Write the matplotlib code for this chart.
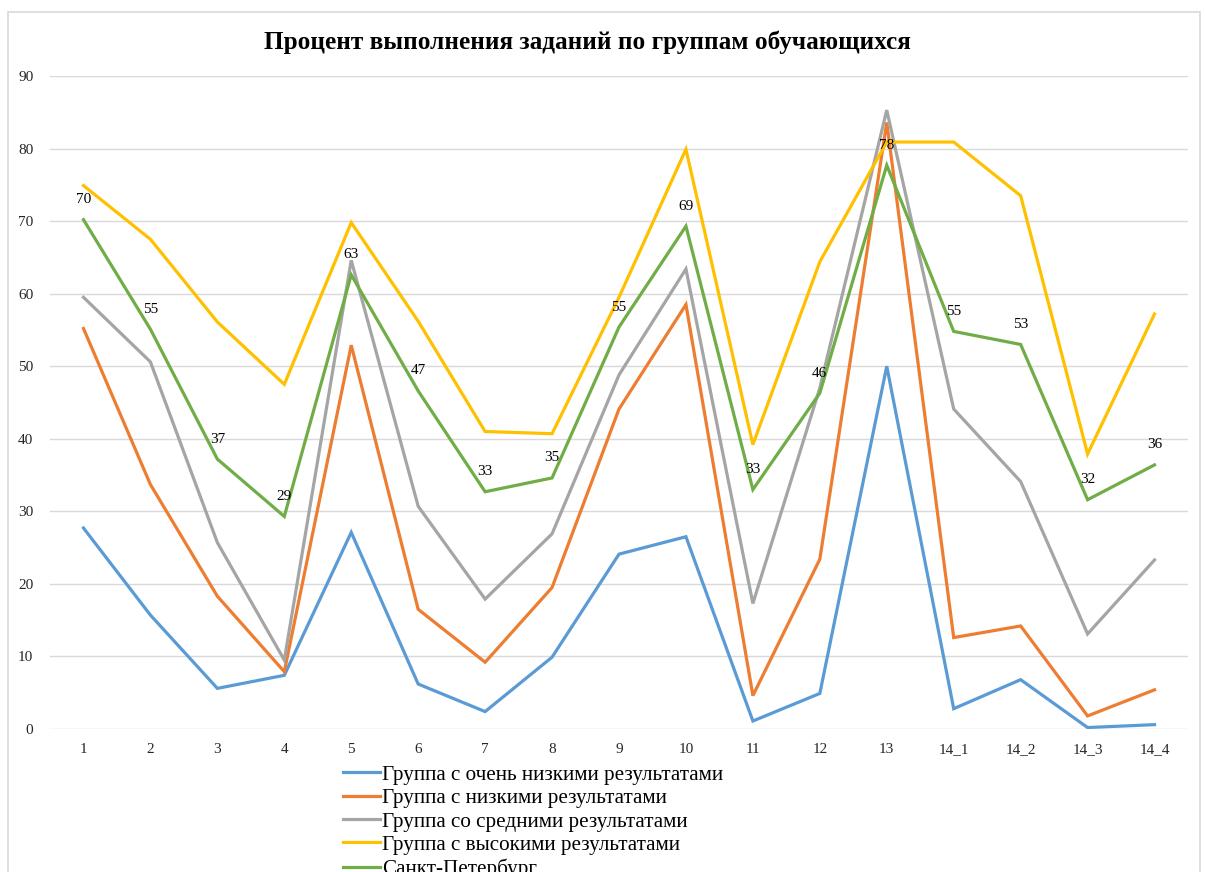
import matplotlib.pyplot as plt
from matplotlib.patches import Rectangle
import numpy as np

plt.rcParams['font.family'] = ['Liberation Serif', 'DejaVu Serif']

# data
tasks = ["1", "2", "3", "4", "5", "6", "7", "8", "9", "10", "11", "12", "13",
         "14_1", "14_2", "14_3", "14_4"]
very_low = [27.7, 15.7, 5.6, 7.4, 27.1, 6.2, 2.4, 9.9, 24.1, 26.5, 1.1, 4.9, 50.0,
            2.8, 6.8, 0.2, 0.6]
low = [55.2, 33.7, 18.3, 7.9, 52.9, 16.5, 9.2, 19.5, 44.1, 58.5, 4.6, 23.4, 83.6,
       12.6, 14.2, 1.8, 5.4]
medium = [59.5, 50.6, 25.7, 9.5, 64.6, 30.7, 17.9, 26.9, 48.8, 63.4, 17.3, 47.0, 85.3,
          44.1, 34.1, 13.1, 23.3]
high = [74.9, 67.5, 56.1, 47.5, 69.8, 56.2, 41.0, 40.7, 59.5, 79.9, 39.2, 64.4, 80.9,
        80.9, 73.5, 37.9, 57.2]
spb = [70.2, 55.1, 37.2, 29.3, 62.6, 46.6, 32.7, 34.6, 55.4, 69.3, 33.0, 46.3, 77.7,
       54.8, 53.0, 31.6, 36.4]

series = [
    ("Группа с очень низкими результатами", very_low, "#5B9BD5"),
    ("Группа с низкими результатами", low, "#ED7D31"),
    ("Группа со средними результатами", medium, "#A5A5A5"),
    ("Группа с высокими результатами", high, "#FFC000"),
    ("Санкт-Петербург", spb, "#70AD47"),
]

W, H = 1205, 872
fig = plt.figure(figsize=(W / 100, H / 100), dpi=100)

# chart frame (bottom edge is cut off in the reference)
fig.patches.append(Rectangle((8 / W, -0.05), 1192 / W, 1.05 - 12 / H,
                             transform=fig.transFigure, fill=False,
                             edgecolor="#d9d9d9", lw=1.2))

ax = fig.add_axes([50 / W, 1 - 729 / H, (1188 - 50) / W, (729 - 76) / H])
x = np.arange(len(tasks))

for name, vals, col in series:
    ax.plot(x, vals, color=col, lw=2.3, label=name, solid_joinstyle="miter")

for xi, v in zip(x, spb):
    ax.annotate(f"{v:.0f}", (xi, v), textcoords="offset pixels", xytext=(0, 20),
                ha="center", va="center", fontsize=11, color="#000000")

ax.set_xlim(-0.5, len(tasks) - 0.5)
ax.set_ylim(0, 90)
ax.set_yticks(range(0, 91, 10))
ax.set_xticks(x)
ax.set_xticklabels(tasks)
ax.grid(axis="y", color="#d9d9d9", lw=1)
ax.set_axisbelow(True)
for s in ax.spines.values():
    s.set_visible(False)
ax.tick_params(length=0, labelsize=11, labelcolor="#262626")
ax.tick_params(axis="y", pad=12)
ax.tick_params(axis="x", pad=10)

fig.text(587 / W, 1 - 42 / H, "Процент выполнения заданий по группам обучающихся",
         ha="center", va="center", fontsize=18.2, fontweight="bold")

fig.legend(loc="upper left", bbox_to_anchor=(343 / W, 1 - 765 / H),
           frameon=False, fontsize=15.2, handlelength=1.75, handletextpad=0.12,
           labelspacing=0.17, borderaxespad=0, borderpad=0)

fig.savefig("out.png", dpi=100)
